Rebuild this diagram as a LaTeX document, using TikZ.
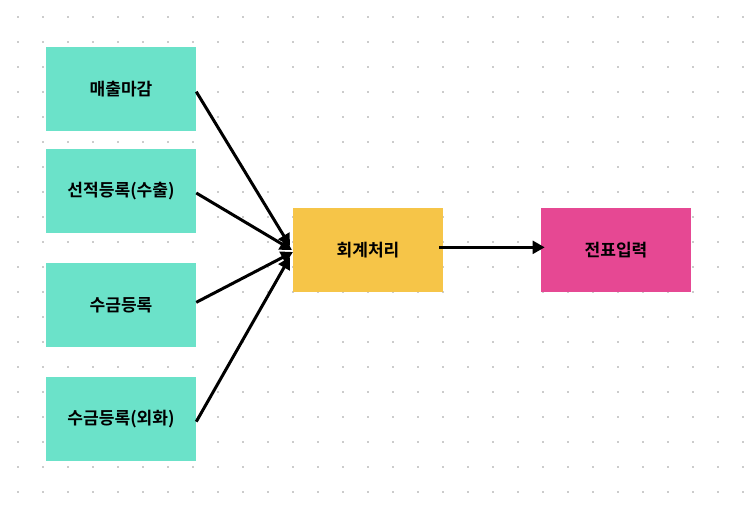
\documentclass[tikz,border=0pt]{standalone}
\usepackage{fontspec}
\newfontfamily\kr{Noto Sans CJK KR}[BoldFont={* Bold}]
\usetikzlibrary{arrows.meta}
\definecolor{teal1}{HTML}{6BE2C9}
\definecolor{orange1}{HTML}{F6C548}
\definecolor{pink1}{HTML}{E64893}
\definecolor{dotc}{HTML}{CCCCCC}
\tikzset{
  box/.style={rectangle, minimum width=112.5pt, minimum height=63pt, inner sep=0pt, font=\kr\bfseries\fontsize{12.8pt}{14pt}\selectfont, text=black},
  conn/.style={line width=2.25pt, -{Triangle[length=9pt,width=9.5pt]}}
}
\begin{document}
\begin{tikzpicture}[x=0.75pt,y=-0.75pt]
\useasboundingbox (0,0) rectangle (756,505);
\fill[white] (0,0) rectangle (756,505);
\foreach \i in {0,...,29}{
  \foreach \j in {0,...,19}{
    \fill[dotc] ({18+25*\i-0.8},{17+25*\j-0.8}) rectangle ++(1.6,1.6);
  }
}
\node[box, fill=teal1] (a) at (121,89) {매출마감};
\node[box, fill=teal1] (b) at (121,191) {선적등록(수출)};
\node[box, fill=teal1] (c) at (121,305) {수금등록};
\node[box, fill=teal1] (d) at (121,419) {수금등록(외화)};
\node[box, fill=orange1] (e) at (368,250) {회계처리};
\node[box, fill=pink1] (f) at (616,250) {전표입력};
\coordinate (t1) at (290,246);
\coordinate (t2) at (292,250);
\coordinate (t3) at (293,252);
\coordinate (t4) at (290,257);
\coordinate (s1) at ([yshift=-2pt]a.east);
\coordinate (s4) at ([yshift=-2pt]d.east);
\draw[conn] (s1) -- (t1);
\draw[conn] ([yshift=-1.5pt]b.east) -- (t2);
\draw[conn] ([yshift=2pt]c.east) -- (t3);
\draw[conn] (s4) -- (t4);
\draw[conn] ([xshift=-3pt,yshift=2pt]e.east) -- ([xshift=3pt,yshift=2pt]f.west);
\end{tikzpicture}
\end{document}
